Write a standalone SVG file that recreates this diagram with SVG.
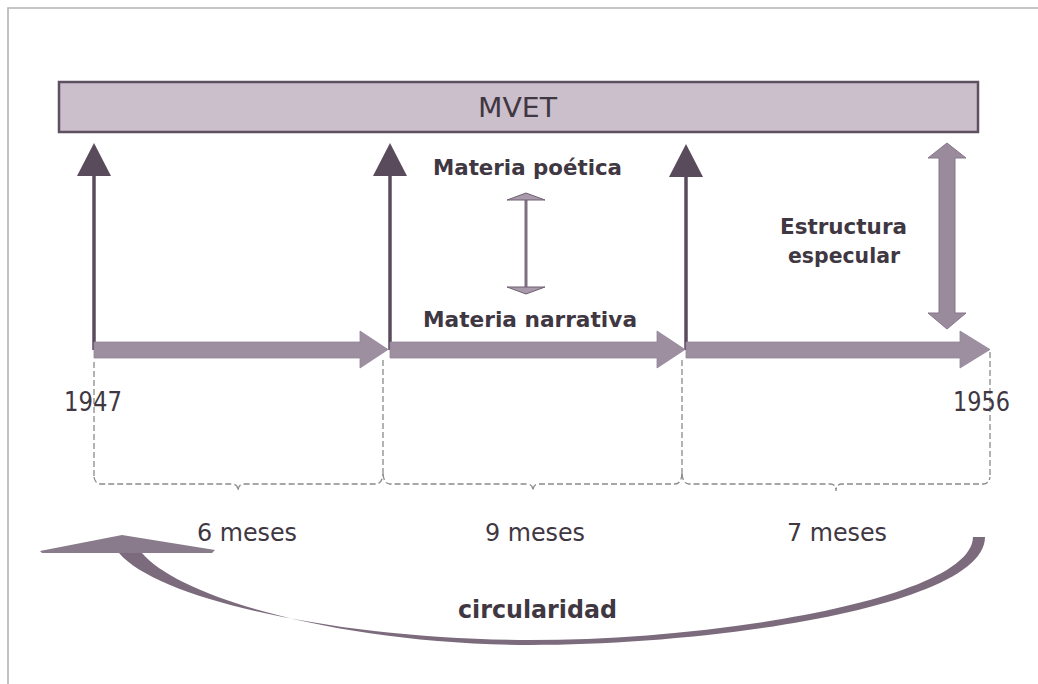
<svg xmlns="http://www.w3.org/2000/svg" width="1038" height="684" viewBox="0 0 1038 684">
<defs>
<style>
.reg{font-family:"DejaVu Sans","Liberation Sans",sans-serif;font-stretch:condensed;fill:#3f3742}
.bold{font-family:"DejaVu Sans","Liberation Sans",sans-serif;font-stretch:condensed;font-weight:bold;fill:#3f3742}
.dash{fill:none;stroke:#8c8a8c;stroke-width:1.3;stroke-dasharray:6 3}
.harrow{fill:#9d8fa0;stroke:#93859a;stroke-width:0.8}
.varrow{fill:#5a4b5c}
.vline{stroke:#5a4b5c;stroke-width:3.5}
</style>
</defs>
<rect width="1038" height="684" fill="#ffffff"/>
<path d="M8 684 V8 H1038" fill="none" stroke="#b4b2b6" stroke-width="1.6"/>

<g id="mvet">
<rect x="59" y="82" width="919" height="50" fill="#cbbfcc" stroke="#5e5060" stroke-width="2.5"/>
<text class="reg" x="478" y="117" font-size="26" textLength="79" lengthAdjust="spacingAndGlyphs" fill="#4a404c">MVET</text>
</g>

<g id="connectors">
<line class="vline" x1="94" y1="170" x2="94" y2="350"/>
<polygon class="varrow" points="94,143 111,176 77,176"/>
<line class="vline" x1="390" y1="170" x2="390" y2="350"/>
<polygon class="varrow" points="390,143 407,176 373,176"/>
<line class="vline" x1="686" y1="170" x2="686" y2="350"/>
<polygon class="varrow" points="686,144 703,177 669,177"/>

<polygon class="harrow" points="94,342 360,342 360,331 388,349.5 360,368 360,358 94,358"/>
<polygon class="harrow" points="390,342 657,342 657,331 685,349.5 657,368 657,358 390,358"/>
<polygon class="harrow" points="686,342 960,342 960,331 990,349.5 960,368 960,358 686,358"/>

<line x1="526" y1="199" x2="526" y2="288" stroke="#7e6f80" stroke-width="3"/>
<polygon points="526,193 545,200 507,200" fill="#a89aab" stroke="#6e5f70" stroke-width="1"/>
<polygon points="526,294 545,287 507,287" fill="#a89aab" stroke="#6e5f70" stroke-width="1"/>

<polygon points="947,143 966,158 955,158 955,313 966,313 947,329 928,313 939,313 939,158 928,158" fill="#9a8b9c" stroke="#85768a" stroke-width="1"/>

<path class="dash" d="M94 362 V477"/>
<path class="dash" d="M383 360 V474"/>
<path class="dash" d="M682 360 V474"/>
<path class="dash" d="M990 352 V477"/>
<path class="dash" d="M94 477 Q95 484 101 484 H232 Q238 484 238 491 Q238 484 244 484 H376 Q382 484 383 474"/>
<path class="dash" d="M383 474 Q384 484 390 484 H527 Q533 484 533 491 Q533 484 539 484 H675 Q681 484 682 474"/>
<path class="dash" d="M682 474 Q683 484 689 484 H830 Q836 484 836 491 Q836 484 842 484 H983 Q989 484 990 477"/>

<path d="M973 537 L985 537 C985 605 720 645 530 645 C340 644 180 598 142 553 L119 553 C160 601 345 640 530 640 C720 640 972 598 973 537 Z" fill="#7b6b7d"/>
<polygon points="40,551 122,535 215,550 212,553 42,553" fill="#8a7b8c"/>
</g>

<g id="labels">
<text class="bold" x="433" y="175" font-size="22" textLength="189" lengthAdjust="spacingAndGlyphs">Materia poética</text>
<text class="bold" x="423" y="327" font-size="22" textLength="214" lengthAdjust="spacingAndGlyphs">Materia narrativa</text>
<text class="bold" x="780" y="234" font-size="22" textLength="127" lengthAdjust="spacingAndGlyphs">Estructura</text>
<text class="bold" x="788" y="263" font-size="22" textLength="112" lengthAdjust="spacingAndGlyphs">especular</text>
<text class="reg" x="64" y="411" font-size="27" textLength="58" lengthAdjust="spacingAndGlyphs">1947</text>
<text class="reg" x="953" y="411" font-size="27" textLength="57" lengthAdjust="spacingAndGlyphs">1956</text>
<text class="reg" x="197" y="541" font-size="24" textLength="100" lengthAdjust="spacingAndGlyphs">6 meses</text>
<text class="reg" x="485" y="541" font-size="24" textLength="100" lengthAdjust="spacingAndGlyphs">9 meses</text>
<text class="reg" x="787" y="541" font-size="24" textLength="100" lengthAdjust="spacingAndGlyphs">7 meses</text>
<text class="bold" x="458" y="618" font-size="25" textLength="159" lengthAdjust="spacingAndGlyphs" fill="#8b7d8e">circularidad</text>
</g>
</svg>
